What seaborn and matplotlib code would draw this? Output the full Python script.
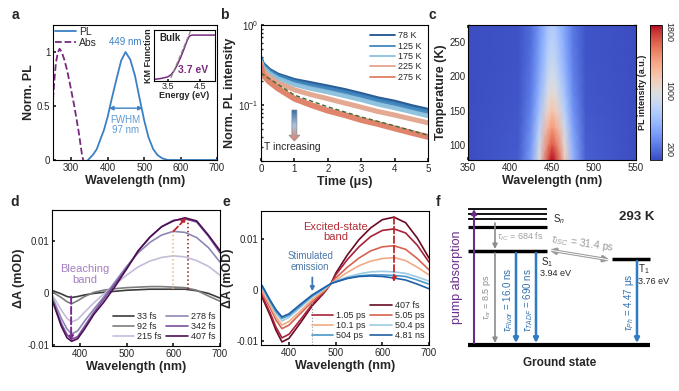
import numpy as np
import seaborn as sns
import matplotlib.pyplot as plt
from matplotlib.colors import LinearSegmentedColormap
from matplotlib.lines import Line2D
from matplotlib.patches import Polygon
from matplotlib.ticker import MultipleLocator, NullFormatter

# ---------------- data ----------------
# a) PL and absorption spectra
pl_wl = [346, 360, 370, 380, 390, 400, 410, 425, 437, 449, 462, 475, 487, 500, 512, 525, 537, 550, 565, 700]
pl_int = [0, 0.05, 0.10, 0.19, 0.28, 0.40, 0.55, 0.76, 0.92, 1.0, 0.93, 0.78, 0.58, 0.37, 0.21, 0.10, 0.045, 0.015, 0, 0]
abs_wl = [250, 254, 258, 263, 268, 274, 281, 288, 295, 302, 309, 315, 321, 326, 330, 333]
abs_int = [0.56, 0.75, 0.90, 0.99, 1.03, 1.0, 0.93, 0.84, 0.73, 0.61, 0.49, 0.37, 0.25, 0.13, 0.04, 0]
# inset: Kubelka-Munk function
km_e = [3.08, 3.3, 3.5, 3.6, 3.7, 3.8, 3.9, 4.0, 4.1, 4.17, 4.25, 4.5, 4.96]
km_val = [0.03, 0.05, 0.08, 0.12, 0.20, 0.32, 0.46, 0.62, 0.79, 0.88, 0.90, 0.90, 0.90]
tangent_e = [3.60, 4.22]
tangent_val = [0.06, 1.0]

# b) temperature dependent PL decay
t_us = [0, 0.05, 0.25, 0.5, 1, 1.5, 2, 2.5, 3, 3.5, 4, 4.5, 5]
temps_b = ['78 K', '125 K', '175 K', '225 K', '275 K']
decay = {
    '78 K': [0.38, 0.33, 0.275, 0.24, 0.205, 0.187, 0.17, 0.154, 0.137, 0.121, 0.11, 0.097, 0.087],
    '125 K': [0.37, 0.32, 0.265, 0.23, 0.195, 0.176, 0.16, 0.145, 0.129, 0.114, 0.103, 0.091, 0.082],
    '175 K': [0.35, 0.30, 0.25, 0.215, 0.18, 0.16, 0.145, 0.13, 0.116, 0.102, 0.092, 0.082, 0.073],
    '225 K': [0.33, 0.27, 0.225, 0.19, 0.155, 0.135, 0.12, 0.106, 0.094, 0.083, 0.075, 0.067, 0.060],
    '275 K': [0.30, 0.24, 0.195, 0.162, 0.12, 0.10, 0.085, 0.075, 0.065, 0.058, 0.051, 0.045, 0.040],
}
fit_t = [0, 1, 2, 3, 4, 5]
fit_val = [0.25, 0.133, 0.095, 0.071, 0.055, 0.042]

# c) PL map (temperature vs wavelength)
hm_wl = [350, 410, 425, 435, 445, 450, 455, 465, 475, 490, 550]
hm_temp = [78, 100, 125, 150, 175, 200, 225, 250, 275]
hm_int = [
    [70, 125, 436, 985, 1717, 1900, 1772, 1168, 564, 143, 70],
    [70, 119, 394, 880, 1528, 1690, 1577, 1042, 507, 135, 70],
    [70, 111, 346, 760, 1312, 1450, 1353, 898, 443, 125, 70],
    [70, 104, 298, 640, 1096, 1210, 1130, 754, 378, 116, 70],
    [70, 99, 264, 555, 943, 1040, 972, 652, 332, 109, 70],
    [70, 96, 240, 495, 835, 920, 861, 580, 300, 104, 70],
    [70, 93, 222, 450, 754, 830, 777, 526, 275, 100, 70],
    [70, 91, 210, 420, 700, 770, 721, 490, 259, 98, 70],
    [70, 90, 200, 395, 655, 720, 675, 460, 246, 96, 70],
]

# d) early-time transient absorption
d_wl = [342, 360, 372, 382, 395, 410, 430, 450, 475, 500, 525, 550, 575, 600, 625, 650, 675, 700]
d_delays = ['33 fs', '92 fs', '215 fs', '278 fs', '342 fs', '407 fs']
d_spec = {
    '33 fs': [0.0005, -0.0001, -0.0006, -0.0008, -0.0006, -0.0003, 0.0, 0.0002, 0.0004, 0.0006, 0.0007, 0.0008, 0.0008, 0.0008, 0.0008, 0.0005, 0.0, -0.0009],
    '92 fs': [0.0002, -0.0008, -0.0016, -0.0020, -0.0014, -0.0006, 0.0002, 0.0006, 0.0009, 0.0011, 0.0012, 0.0013, 0.0013, 0.0012, 0.0011, 0.0006, -0.0005, -0.0015],
    '215 fs': [-0.0005, -0.0032, -0.0048, -0.0055, -0.0050, -0.0036, -0.0018, -0.0002, 0.0017, 0.0035, 0.0051, 0.0062, 0.0069, 0.0072, 0.0070, 0.0063, 0.0052, 0.0035],
    '278 fs': [-0.0010, -0.0048, -0.0068, -0.0078, -0.0072, -0.0053, -0.0030, -0.0008, 0.0022, 0.0052, 0.0078, 0.0098, 0.0112, 0.0119, 0.0117, 0.0107, 0.0088, 0.0060],
    '342 fs': [-0.0015, -0.0058, -0.0079, -0.0088, -0.0083, -0.0063, -0.0036, -0.0012, 0.0018, 0.0048, 0.0082, 0.0108, 0.0128, 0.0140, 0.0143, 0.0137, 0.0110, 0.0078],
    '407 fs': [-0.0017, -0.0063, -0.0085, -0.0092, -0.0087, -0.0068, -0.0040, -0.0018, 0.0013, 0.0047, 0.0082, 0.0108, 0.0128, 0.0139, 0.0145, 0.0139, 0.0112, 0.0082],
}
d_colors = ['#3c3c3c', '#7d7d7d', '#c5bcd9', '#8d87b5', '#7b4f9d', '#4b1053']

# e) longer-time transient absorption
e_wl = [342, 360, 372, 385, 400, 425, 450, 475, 490, 500, 525, 550, 575, 600, 625, 650, 675, 700]
e_delays = ['407 fs', '1.05 ps', '5.05 ps', '10.1 ps', '50.4 ps', '504 ps', '4.81 ns']
e_spec = {
    '407 fs': [-0.0013, -0.0050, -0.0078, -0.0101, -0.0094, -0.0063, -0.0030, -0.0005, 0.0013, 0.0033, 0.0069, 0.0099, 0.0122, 0.0138, 0.0143, 0.0132, 0.0102, 0.0063],
    '1.05 ps': [-0.0010, -0.0045, -0.0072, -0.0093, -0.0086, -0.0057, -0.0027, -0.0004, 0.0013, 0.0030, 0.0060, 0.0085, 0.0105, 0.0117, 0.0120, 0.0112, 0.0088, 0.0055],
    '5.05 ps': [-0.0005, -0.0035, -0.0058, -0.0075, -0.0068, -0.0045, -0.0022, -0.0002, 0.0013, 0.0024, 0.0045, 0.0063, 0.0077, 0.0085, 0.0087, 0.0080, 0.0062, 0.0040],
    '10.1 ps': [0.0, -0.0030, -0.0052, -0.0068, -0.0061, -0.0040, -0.0018, 0.0, 0.0013, 0.0020, 0.0035, 0.0048, 0.0057, 0.0062, 0.0064, 0.0058, 0.0045, 0.0030],
    '50.4 ps': [0.0005, -0.0025, -0.0045, -0.0060, -0.0053, -0.0033, -0.0013, 0.0002, 0.0013, 0.0018, 0.0026, 0.0032, 0.0036, 0.0037, 0.0036, 0.0033, 0.0026, 0.0018],
    '504 ps': [0.0008, -0.0022, -0.0041, -0.0055, -0.0049, -0.0030, -0.0011, 0.0004, 0.0013, 0.0017, 0.0024, 0.0028, 0.0030, 0.0030, 0.0029, 0.0027, 0.0020, 0.0012],
    '4.81 ns': [0.0010, -0.0020, -0.0038, -0.0052, -0.0046, -0.0027, -0.0009, 0.0005, 0.0013, 0.0016, 0.0023, 0.0027, 0.0028, 0.0027, 0.0024, 0.0020, 0.0012, 0.0003],
}
e_colors = ['#6b0a22', '#a8213a', '#d6634f', '#f2aa85', '#9ccbe2', '#4a97c9', '#1f5fa6']

# ---------------- style ----------------
sns.set_theme(style='ticks')
plt.rcParams['font.family'] = ['Liberation Sans', 'DejaVu Sans']
plt.rcParams.update({
    'mathtext.fontset': 'custom',
    'mathtext.rm': 'Liberation Sans',
    'mathtext.it': 'Liberation Sans:italic',
    'mathtext.bf': 'Liberation Sans:bold',
    'xtick.direction': 'in', 'ytick.direction': 'in',
    'xtick.labelsize': 7, 'ytick.labelsize': 7,
    'xtick.major.size': 2.5, 'ytick.major.size': 2.5,
    'xtick.minor.size': 1.5, 'ytick.minor.size': 1.5,
    'xtick.major.pad': 2, 'ytick.major.pad': 2,
    'axes.linewidth': 0.8, 'axes.edgecolor': 'black',
    'axes.labelsize': 9, 'axes.labelweight': 'bold', 'axes.labelpad': 1.5,
    'legend.fontsize': 6.5,
})

W, H = 679, 391
fig = plt.figure(figsize=(W / 100, H / 100), dpi=100)


def px_axes(x0, y0, x1, y1):
    return fig.add_axes([x0 / W, 1 - y1 / H, (x1 - x0) / W, (y1 - y0) / H])


PL_C = '#3a80c3'
ABS_C = '#782a7e'

# ---------- a ----------
ax_a = px_axes(53, 25, 217, 160)
sns.lineplot(x=pl_wl, y=pl_int, ax=ax_a, color=PL_C, lw=1.3, label='PL')
sns.lineplot(x=abs_wl, y=abs_int, ax=ax_a, color=ABS_C, lw=1.3, linestyle='--', label='Abs')
ax_a.set(xlim=(250, 700), ylim=(0, 1.25), xticks=[300, 400, 500, 600, 700], yticks=[0, 0.5, 1])
ax_a.set_yticklabels(['0', '0.5', '1'])
ax_a.set_xlabel('Wavelength (nm)')
ax_a.set_ylabel('Norm. PL')
ax_a.legend(loc='upper left', frameon=False, fontsize=7.5, handlelength=2.0, handletextpad=0.3,
            labelspacing=0.1, borderaxespad=0.1, borderpad=0.1)
ax_a.text(449, 1.05, '449 nm', ha='center', va='bottom', color=PL_C, fontsize=7)
ax_a.annotate('', xy=(404, 0.48), xytext=(496, 0.48),
              arrowprops=dict(arrowstyle='<|-|>', color=PL_C, lw=1, mutation_scale=6, shrinkA=0, shrinkB=0))
ax_a.text(449, 0.42, 'FWHM\n97 nm', ha='center', va='top', color='#5e9bd2', fontsize=7, linespacing=1.1)

ax_in = px_axes(154, 30, 215, 81)
sns.lineplot(x=km_e, y=km_val, ax=ax_in, color=ABS_C, lw=1.1)
ax_in.plot(tangent_e, tangent_val, color='#8a8a8a', ls='--', lw=0.9)
ax_in.set(xlim=(3.08, 4.96), ylim=(0, 1.0), xticks=[3.5, 4.5], yticks=[])
ax_in.set_xlabel('Energy (eV)', fontsize=6.5, fontweight='semibold', labelpad=0)
ax_in.set_ylabel('KM Function', fontsize=6.5, fontweight='semibold', labelpad=1)
ax_in.tick_params(labelsize=6.5, pad=1, length=1.5)
ax_in.text(0.09, 0.84, 'Bulk', transform=ax_in.transAxes, va='center', fontsize=7, fontweight='bold')
ax_in.text(0.64, 0.22, '3.7 eV', transform=ax_in.transAxes, ha='center', va='center',
           color=ABS_C, fontsize=7.5, fontweight='bold')

# ---------- b ----------
ax_b = px_axes(261, 25, 428, 161)
b_colors = ['#1f5590', '#3f86bf', '#8cc0dd', '#e3a58c', '#df7f64']
b_widths = [3.0, 3.0, 3.2, 3.6, 4.2]
for name, col, lw in zip(temps_b, b_colors, b_widths):
    sns.lineplot(x=t_us, y=decay[name], ax=ax_b, color=col, lw=lw, alpha=0.95)
ax_b.plot(fit_t, fit_val, ls='--', color='#3d6b35', lw=1.0, dashes=(3, 2))
ax_b.set_yscale('log')
ax_b.set(xlim=(0, 5), ylim=(0.02, 1), xticks=[0, 1, 2, 3, 4, 5])
ax_b.yaxis.set_minor_formatter(NullFormatter())
ax_b.set_xlabel('Time (μs)')
ax_b.set_ylabel('Norm. PL intensity')
b_handles = [Line2D([], [], color=c, lw=1.3) for c in b_colors]
ax_b.legend(b_handles, temps_b, loc='upper right', frameon=False, handlelength=2.8, handletextpad=0.3,
            labelspacing=0.15, borderaxespad=0.3)

# gradient arrow "T increasing"
grad_cmap = LinearSegmentedColormap.from_list('tgrad', ['#2d6aa6', '#a9c5df', '#e07c62'])
arrow_poly = Polygon([[0.185, 0.375], [0.215, 0.375], [0.215, 0.19], [0.233, 0.19],
                      [0.2, 0.147], [0.167, 0.19], [0.185, 0.19]], closed=True,
                     transform=ax_b.transAxes, fc='none', ec='#8a8a8a', lw=0.5, zorder=6)
ax_b.add_patch(arrow_poly)
grad = np.linspace(0, 1, 64).reshape(-1, 1)
im = ax_b.imshow(grad, extent=[0.16, 0.24, 0.14, 0.38], transform=ax_b.transAxes,
                 cmap=grad_cmap, aspect='auto', zorder=5, origin='upper')
im.set_clip_path(arrow_poly)
ax_b.set(xlim=(0, 5), ylim=(0.02, 1))
ax_b.text(0.02, 0.105, 'T increasing', transform=ax_b.transAxes, va='center', fontsize=7.5)

# ---------- c ----------
ax_c = px_axes(468, 25, 636, 160)
cax = px_axes(650, 25, 662, 160)
mesh = ax_c.pcolormesh(hm_wl, hm_temp, np.array(hm_int), shading='gouraud', cmap='coolwarm', vmin=60, vmax=1900)
ax_c.set(xlim=(350, 550), ylim=(78, 275), xticks=[350, 400, 450, 500, 550], yticks=[100, 150, 200, 250])
ax_c.xaxis.set_minor_locator(MultipleLocator(25))
ax_c.yaxis.set_minor_locator(MultipleLocator(25))
ax_c.tick_params(which='both', top=True, right=True)
ax_c.set_xlabel('Wavelength (nm)')
ax_c.set_ylabel('Temperature (K)')
cb = fig.colorbar(mesh, cax=cax, ticks=[200, 1000, 1800])
cb.ax.yaxis.set_minor_locator(MultipleLocator(200))
cb.ax.tick_params(which='both', labelsize=6.5, direction='in', length=2, pad=2)
for lab in cb.ax.get_yticklabels():
    lab.set_rotation(270)
    lab.set_va('center')
cb.ax.yaxis.set_label_position('left')
cb.set_label('PL intensity (a.u.)', fontsize=6.5, fontweight='bold', labelpad=2)
cb.outline.set_linewidth(0.6)

# ---------- d ----------
ax_d = px_axes(52, 210, 220, 346)
for name, col in zip(d_delays, d_colors):
    sns.lineplot(x=d_wl, y=d_spec[name], ax=ax_d, color=col, lw=1.2, label=name)
ax_d.set(xlim=(340, 700), ylim=(-0.0101, 0.016), xticks=[400, 500, 600, 700], yticks=[-0.01, 0, 0.01])
ax_d.set_yticklabels(['-0.01', '0', '0.01'])
ax_d.set_xlabel('Wavelength (nm)')
ax_d.set_ylabel('ΔA (mOD)')
ax_d.legend(loc='lower right', ncol=2, frameon=False, handlelength=2.4, handletextpad=0.3,
            columnspacing=0.5, labelspacing=0.1, borderaxespad=0.15)
ax_d.annotate('', xy=(381, -0.0091), xytext=(381, -0.0006),
              arrowprops=dict(arrowstyle='-|>', color='#7a2a8a', lw=1.4, ls='--', mutation_scale=6, shrinkA=0, shrinkB=0))
ax_d.plot([600, 600], [0.0008, 0.0119], ls=':', color='#f0b27a', lw=1.1)
ax_d.plot([631, 631], [0.0008, 0.0145], ls=':', color='#8b1a1a', lw=1.1)
ax_d.annotate('', xy=(628, 0.0145), xytext=(600, 0.0119),
              arrowprops=dict(arrowstyle='-|>', color='#c0282d', lw=1.3, ls='--', mutation_scale=6, shrinkA=0, shrinkB=0))
ax_d.text(410, 0.0036, 'Bleaching\nband', ha='center', va='center', color='#a47fc2', fontsize=8, linespacing=1.1)

# ---------- e ----------
ax_e = px_axes(261, 211, 429, 345)
for name, col in zip(e_delays, e_colors):
    sns.lineplot(x=e_wl, y=e_spec[name], ax=ax_e, color=col, lw=1.2, label=name)
ax_e.set(xlim=(340, 700), ylim=(-0.0107, 0.0155), xticks=[400, 500, 600, 700], yticks=[-0.01, 0, 0.01])
ax_e.set_yticklabels(['-0.01', '0', '0.01'])
ax_e.set_xlabel('Wavelength (nm)')
ax_e.set_ylabel('ΔA (mOD)')
h, l = ax_e.get_legend_handles_labels()
hd = dict(zip(l, h))
blank = Line2D([], [], color='none')
order_h = [blank, hd['1.05 ps'], hd['10.1 ps'], hd['504 ps'], hd['407 fs'], hd['5.05 ps'], hd['50.4 ps'], hd['4.81 ns']]
order_l = ['', '1.05 ps', '10.1 ps', '504 ps', '407 fs', '5.05 ps', '50.4 ps', '4.81 ns']
ax_e.legend(order_h, order_l, loc='lower right', ncol=2, frameon=False, handlelength=2.4, handletextpad=0.3,
            columnspacing=0.5, labelspacing=0.1, borderaxespad=0.15)
ax_e.plot([450, 450], [-0.0107, -0.0022], ls=':', color='#9a9a9a', lw=0.8)
ax_e.annotate('', xy=(450, -0.0002), xytext=(450, 0.0025),
              arrowprops=dict(arrowstyle='-|>', color='#3f78b5', lw=1.3, mutation_scale=6, shrinkA=0, shrinkB=0))
ax_e.text(445, 0.0056, 'Stimulated\nemission', ha='center', va='center', color='#4d79a8', fontsize=7, linespacing=1.1)
ax_e.annotate('', xy=(625, 0.0016), xytext=(625, 0.0143),
              arrowprops=dict(arrowstyle='-|>', color='#c0282d', lw=1.3, ls='--', mutation_scale=6, shrinkA=0, shrinkB=0))
ax_e.text(500, 0.0114, 'Excited-state\nband', ha='center', va='center', color='#b22d35', fontsize=8, linespacing=1.1)

# ---------- f : energy level diagram (pixel coordinates) ----------
ax_f = fig.add_axes([450 / W, 0, (W - 450) / W, 205 / H])
ax_f.set_xlim(450, W)
ax_f.set_ylim(H, 186)
ax_f.axis('off')
for yy, lw in [(209, 1.3), (214, 1.3), (219, 1.3), (227, 2.3)]:
    ax_f.plot([468, 547], [yy, yy], color='black', lw=lw, solid_capstyle='butt')
ax_f.plot([468, 547], [251, 251], color='black', lw=2.5, solid_capstyle='butt')
ax_f.plot([612, 650], [259, 259], color='black', lw=2.5, solid_capstyle='butt')
ax_f.plot([468, 650], [345, 345], color='black', lw=3, solid_capstyle='butt')


def arrow(x0, y0, x1, y1, color, lw=1.4, style='-|>', ms=7):
    ax_f.annotate('', xy=(x1, y1), xytext=(x0, y0),
                  arrowprops=dict(arrowstyle=style, color=color, lw=lw, mutation_scale=ms, shrinkA=0, shrinkB=0))


arrow(474, 343, 474, 209, '#6a2c8a', lw=1.5)
arrow(495, 223, 495, 249, '#8c8c8c', lw=1.2)
arrow(495, 253, 495, 343, '#8c8c8c', lw=1.2)
for xx in (516, 536):
    arrow(xx, 253, xx, 343, '#2f7bc4', lw=1.8)
arrow(637, 261, 637, 343, '#2f7bc4', lw=1.8)
arrow(549, 250, 610, 260, '#9a9a9a', lw=2.2, style='<|-|>', ms=8)
arrow(551, 250.3, 608, 259.7, 'white', lw=0.7, style='-', ms=8)

ax_f.text(457, 277, 'pump absorption', rotation=90, ha='center', va='center', color='#6a2c8a', fontsize=9)
ax_f.text(497, 237, r'$\tau_{IC}$ = 684 fs', ha='left', va='center', color='#a0a0a0', fontsize=6.5)
ax_f.text(487, 297, r'$\tau_{nr}$ = 8.5 ps', rotation=90, ha='center', va='center', color='#8c8c8c', fontsize=6.5)
ax_f.text(508, 300, r'$\tau_{Fluor}$ = 16.0 ns', rotation=90, ha='center', va='center', color='#2f6fb0', fontsize=7)
ax_f.text(528, 300, r'$\tau_{TADF}$ = 690 ns', rotation=90, ha='center', va='center', color='#2f6fb0', fontsize=7)
ax_f.text(629, 302, r'$\tau_{Ph}$ = 4.47 μs', rotation=90, ha='center', va='center', color='#2f6fb0', fontsize=7)
ax_f.text(583, 244, r'$\tau_{ISC}$ = 31.4 ps', rotation=-8, ha='center', va='center', color='#9a9a9a', fontsize=7.5)
ax_f.text(553, 219, r'S$_n$', ha='left', va='center', fontsize=7)
ax_f.text(541, 262, r'S$_1$', ha='left', va='center', fontsize=7)
ax_f.text(540, 273, '3.94 eV', ha='left', va='center', fontsize=6.5)
ax_f.text(638, 269, r'T$_1$', ha='left', va='center', fontsize=7)
ax_f.text(638, 281, '3.76 eV', ha='left', va='center', fontsize=6.5)
ax_f.text(637, 217, '293 K', ha='center', va='center', fontsize=9.5, fontweight='bold')
ax_f.text(560, 363, 'Ground state', ha='center', va='center', fontsize=8.5, fontweight='bold')

# panel letters
for letter, (xx, yy) in zip('abcdef', [(15, 15), (224, 15), (432, 15), (15, 202), (226, 202), (438, 202)]):
    fig.text(xx / W, 1 - yy / H, letter, ha='center', va='center', fontsize=10, fontweight='bold')

fig.savefig('out.png', dpi=100)
